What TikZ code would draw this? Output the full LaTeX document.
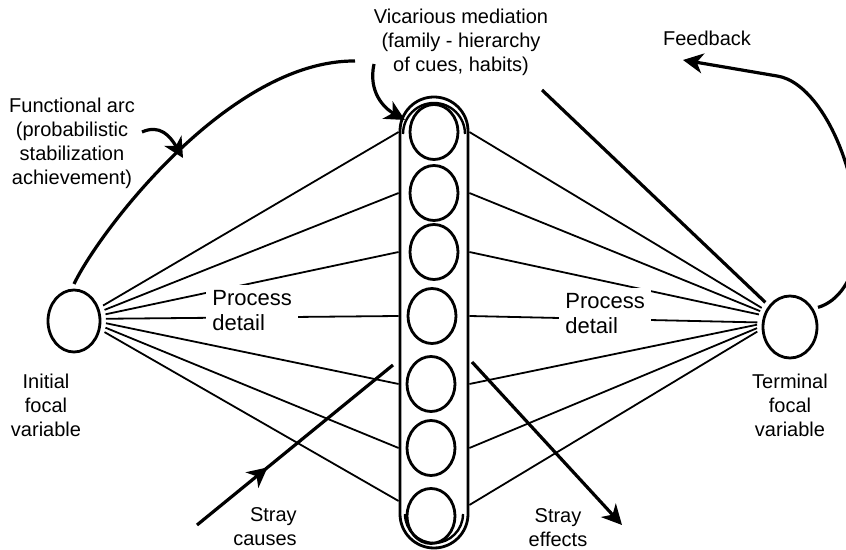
\documentclass[tikz,border=0pt]{standalone}
\usepackage{fontspec}
\setsansfont{Liberation Sans}
\usetikzlibrary{arrows.meta,calc,shapes.geometric,decorations.markings}
\tikzset{
  font=\sffamily,
  >=Stealth,
  %% nodes
  focal/.style    = {ellipse, draw=black, line width=1.4pt, inner sep=0pt,
                     outer sep=3pt, minimum width=26pt, minimum height=31pt},
  cue/.style      = {ellipse, draw=black, line width=1.4pt, inner sep=0pt,
                     minimum width=24pt, minimum height=27.5pt},
  capsule/.style  = {rectangle, rounded corners=17pt, draw=black, line width=1.4pt,
                     inner sep=0pt, minimum width=34pt, minimum height=225.5pt},
  %% lines
  fan/.style      = {draw=black, line width=0.9pt},
  achieve/.style  = {draw=black, line width=1.6pt},
  pointer/.style  = {-{Stealth[length=10pt, width=10pt, inset=3pt]}, draw=black, line width=1.6pt},
  %% annotations
  lbl/.style      = {font=\sffamily\fontsize{10}{12}\selectfont, align=center, inner sep=0pt},
  proc/.style     = {font=\sffamily\fontsize{11}{12.5}\selectfont, align=left,
                     fill=white, inner sep=3pt, anchor=west},
}

\begin{document}
\begin{tikzpicture}[x=0.5pt, y=-0.5pt]
\useasboundingbox (0,0) rectangle (846,550);

%% ============ focal variables ============
\node[focal] (initial)  at (74,321) {};
\node[focal, minimum width=27pt] (terminal) at (790,327) {};
\node[lbl] (initlbl) at (46,405) {Initial\\focal\\variable};
\node[lbl] (termlbl) at (790,405) {Terminal\\focal\\variable};

%% ============ vicarious mediation column ============
\node[capsule] (column) at (434,322.5) {};
\draw[line width=1.2pt] (403,134) arc[start angle=180, end angle=0, radius=15.5pt];
\draw[line width=1.2pt] (405,514) arc[start angle=180, end angle=360, radius=14.5pt];
\node[cue] (c1) at (434,132) {};
\node[cue] (c2) at (434,193) {};
\node[cue] (c3) at (434,252) {};
\node[cue] (c4) at (432,316) {};
\node[cue] (c5) at (431,384) {};
\node[cue] (c6) at (431,448) {};
\node[cue] (c7) at (431,516) {};

%% ============ process detail fans ============
\draw[fan] (initial.28)  -- (column.west |- c1);
\draw[fan] (initial.20)  -- (column.west |- c2);
\draw[fan] (initial.12)  -- (column.west |- c3);
\draw[fan] (initial.4)   -- (column.west |- c4);
\draw[fan] (initial.-4)  -- (column.west |- c5);
\draw[fan] (initial.-12) -- (column.west |- c6);
\draw[fan] (initial.-20) -- ($(column.west |- c7)+(0,-15)$);

\draw[fan] (column.east |- c1) -- (terminal.146);
\draw[fan] (column.east |- c2) -- (terminal.152);
\draw[fan] (column.east |- c3) -- (terminal.158);
\draw[fan] (column.east |- c4) -- (terminal.172);
\draw[fan] (column.east |- c5) -- (terminal.176);
\draw[fan] (column.east |- c6) -- (terminal.182);
\draw[fan] ($(column.east |- c7)+(0,-11)$) -- (terminal.188);

\node[proc] (procl) at (206,311) {Process\\detail};
\node[proc] (procr) at (559,314) {Process\\detail};

%% ============ functional arc ============
\coordinate (arcleft)  at (355,61);
\coordinate (arcright) at (542,90);
\draw[achieve] (initial.north) .. controls (100,230) and (230,60) .. (arcleft);
\draw[achieve] (arcright) -- (terminal.135);
\node[lbl] (funclbl) at (72,143) {Functional arc\\(probabilistic\\stabilization\\achievement)};
\coordinate (funcfrom) at (142,132);
\draw[pointer] (funcfrom) .. controls (160,124) and (170,136) .. (183,158);

\node[lbl] (vicarlbl) at (461,42) {Vicarious mediation\\(family - hierarchy\\of cues, habits)};
\coordinate (vicarfrom) at (374,64);
\draw[pointer] (vicarfrom) .. controls (368,92) and (384,108) .. (405,120);

%% ============ feedback ============
\node[lbl] (feedlbl) at (707,38) {Feedback};
\draw[pointer] (terminal.35) .. controls (860,295) and (870,220) .. (850,178)
   .. controls (835,120) and (805,80) .. (777,76) -- (683,60);

%% ============ stray causes / effects ============
\coordinate (causefrom) at (197,525);
\coordinate (causeto)   at (393,365);
\draw[achieve, postaction={decorate}, decoration={markings,
      mark=at position 0.36 with {\arrow{Stealth[length=10pt, width=10pt, inset=3pt]}}}]
   (causefrom) -- (causeto);
\node[lbl, align=right] (causelbl) at (265,527) {Stray\\causes};

\coordinate (effectfrom) at (472,362);
\coordinate (effectto)   at (622,525);
\draw[pointer] (effectfrom) -- (effectto);
\node[lbl] (effectlbl) at (558,528) {Stray\\effects};

\end{tikzpicture}
\end{document}
